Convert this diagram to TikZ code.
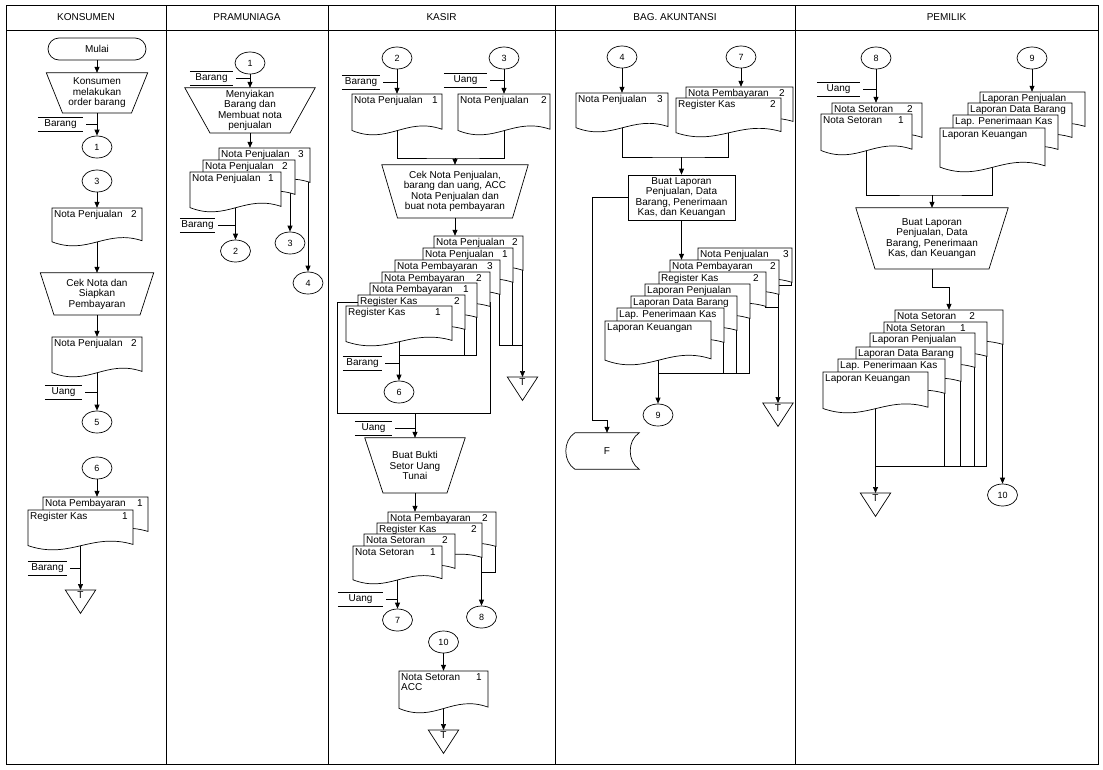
\documentclass[tikz,border=0pt]{standalone}
\usepackage{fontspec}
\setmainfont{Liberation Sans}
\usetikzlibrary{shapes.geometric,arrows.meta}
\pgfdeclarelayer{bg}
\pgfsetlayers{bg,main}
\tikzset{
  tfont/.style={font=\fontsize{10}{10.5}\selectfont},
  shp/.style={draw=black, line width=0.7pt},
  wire/.style={draw=black, line width=0.7pt},
  arr/.style={wire, -{Triangle[length=6pt,width=5pt]}},
  lbl/.style={draw=black, line width=0.6pt},
  frame/.style={draw=black, line width=0.9pt},
  conn/.style={ellipse, draw, line width=0.7pt, minimum width=30pt, minimum height=22pt, inner sep=0pt, font=\fontsize{9}{10}\selectfont},
  term/.style={draw, line width=0.7pt, rounded corners=11pt, minimum width=98pt, minimum height=22pt, tfont},
  dtext/.style={tfont, inner sep=0pt, align=left},
  docbody/.style={inner sep=0pt, draw=none},
}
% document: [number margin]{name}{x0}{y0}{x1}{h}{label}{number}
\newcommand{\docu}[8][5]{%
  \node[docbody, minimum width={#5-#3}, minimum height=#6] (#2) at ({(#3+#5)/2},{#4+#6/2}) {};
  \draw[shp, fill=white] (#3,#4) -- (#5,#4) -- (#5,{#4+0.86*#6})
    .. controls ({#3+0.6*(#5-#3)},{#4+0.55*#6}) and ({#3+0.4*(#5-#3)},{#4+1.25*#6}) ..
    (#3,{#4+0.89*#6}) -- cycle;
  \node[dtext, anchor=north west] (#2-l) at ({#3+2},{#4+2}) {#7};
  \node[dtext, anchor=north east] (#2-n) at ({#5-#1},{#4+2}) {#8};
}
% manual operation: {name}{cx}{ytop}{wtop}{wbot}{h}{text}
\newcommand{\manop}[7]{%
  \node[tfont, align=center, inner sep=0pt, minimum width=#4, minimum height=#6] (#1) at (#2,{#3+#6/2}) {#7};
  \draw[shp] (#1.north west) -- (#1.north east) -- ({#2+#5/2},{#3+#6}) -- ({#2-#5/2},{#3+#6}) -- cycle;
}
% physical item label: {name}{x0}{x1}{y}{text}
\newcommand{\thing}[5]{%
  \node[tfont, inner sep=0pt, minimum width={#3-#2}, minimum height=14] (#1) at ({(#2+#3)/2},#4) {#5};
  \draw[lbl] (#1.north west) -- (#1.north east) (#1.south west) -- (#1.south east);
}
% offline storage: {name}{cx}{ytop}
\newcommand{\offl}[3]{%
  \node[inner sep=0pt, minimum width=30, minimum height=23, anchor=north] (#1) at (#2,#3) {};
  \draw[shp] (#1.north west) -- (#1.north east) -- (#1.south) -- cycle;
  \node[tfont, anchor=north, inner sep=0pt] (#1-t) at ([yshift=-1.5pt]#1.north) {T};
}
\begin{document}
\begin{tikzpicture}[x=1pt,y=-1pt]
\useasboundingbox (0,0) rectangle (1103,769);
% headers
\node[tfont] (h1) at (86,17) {KONSUMEN};
\node[tfont] (h2) at (247,17) {PRAMUNIAGA};
\node[tfont] (h3) at (441.5,17) {KASIR};
\node[tfont] (h4) at (675,17) {BAG. AKUNTANSI};
\node[tfont] (h5) at (946.5,17) {PEMILIK};

% ---------------- KONSUMEN
\node[term] (mulai) at (97,49) {Mulai};
\manop{order}{97}{73}{101}{69}{40}{Konsumen\\melakukan\\order barang}
\thing{bar1}{38}{83}{124}{Barang}
\node[conn] (k1) at (97,147) {1};
\node[conn] (k3) at (97,181) {3};
\docu{knp2}{52}{208}{142}{38}{Nota Penjualan}{2}
\manop{cek}{97}{273}{113}{86}{42}{Cek Nota dan\\Siapkan\\Pembayaran}
\docu{knp2b}{52}{337}{142}{40}{Nota Penjualan}{2}
\thing{uang1}{45}{82}{392.5}{Uang}
\node[conn] (k5) at (97,422) {5};
\node[conn] (k6) at (97,468) {6};
\docu{knb1}{43}{497}{148}{40}{Nota Pembayaran}{1}
\docu{krk1}{28}{510}{133}{40}{Register Kas}{1}
\thing{bar2}{28}{67}{568}{Barang}
\offl{tk}{80.5}{590}

% ---------------- PRAMUNIAGA
\node[conn] (p1) at (250,63) {1};
\thing{bar3}{190}{233}{78}{Barang}
\manop{siap}{250}{88}{130}{80}{45}{Menyiakan\\Barang dan\\Membuat nota\\penjualan}
\docu[6]{pnp3}{219}{148}{310}{40}{Nota Penjualan}{3}
\docu[7]{pnp2}{203}{160}{295}{40}{Nota Penjualan}{2}
\docu[7]{pnp1}{190}{172}{281}{40}{Nota Penjualan}{1}
\thing{bar4}{180}{215}{225}{Barang}
\node[conn] (p2) at (235.5,251) {2};
\node[conn] (p3) at (290,243) {3};
\node[conn] (p4) at (308,283) {4};

% ---------------- KASIR
\node[conn] (c2) at (397,58) {2};
\node[conn] (c3) at (504,58) {3};
\thing{bar5}{342}{380}{82}{Barang}
\thing{uang2}{444}{487}{80}{Uang}
\docu[4]{cnp1}{352}{94}{442}{41}{Nota Penjualan}{1}
\docu[3]{cnp2}{458}{94}{550}{41}{Nota Penjualan}{2}
\manop{cek2}{455}{165}{146}{115}{53}{Cek Nota Penjualan,\\barang dan uang, ACC\\Nota Penjualan dan\\buat nota pembayaran}
\docu{cs1}{434}{236}{523}{40}{Nota Penjualan}{2}
\docu{cs2}{423}{248}{513}{40}{Nota Penjualan}{1}
\docu[7]{cs3}{395}{260}{500}{40}{Nota Pembayaran}{3}
\docu[8]{cs4}{382}{272}{490}{40}{Nota Pembayaran}{2}
\docu[8]{cs5}{370}{283}{477}{40}{Nota Pembayaran}{1}
\docu{cs6}{358}{295}{465}{40}{Register Kas}{2}
\docu[11]{cs7}{346}{306}{452}{40}{Register Kas}{1}
\node[conn] (c6) at (399,392) {6};
\thing{bar6}{343}{382}{363}{Barang}
\offl{tc1}{522.5}{377}
\thing{uang3}{355}{392}{428}{Uang}
\manop{setor}{415}{438}{100}{64}{55}{Buat Bukti\\Setor Uang\\Tunai}
\docu[8]{cd1}{388}{512}{496}{40}{Nota Pembayaran}{2}
\docu{cd2}{377}{523}{482}{40}{Register Kas}{2}
\docu[7]{cd3}{364}{534}{455}{40}{Nota Setoran}{2}
\docu[6]{cd4}{353}{546}{442}{38}{Nota Setoran}{1}
\thing{uang4}{338}{383}{599}{Uang}
\node[conn] (c7) at (397.5,620) {7};
\node[conn] (c8) at (481.5,617) {8};
\node[conn] (c10) at (443.5,642) {10};
\docu[6]{acc}{399}{671}{488}{42}{Nota Setoran\\ACC}{1}
\offl{tc2}{443.5}{730}

% ---------------- BAG. AKUNTANSI
\node[conn] (a4) at (622,57) {4};
\node[conn] (a7) at (741,57) {7};
\docu{anp3}{576}{93}{668}{39}{Nota Penjualan}{3}
\docu[8]{anb2}{686}{87}{793}{40}{Nota Pembayaran}{2}
\docu{ark2}{676}{98}{781}{39}{Register Kas}{2}
\node[shp, tfont, align=center, minimum width=107, minimum height=45, inner sep=0pt] (lap) at (681.5,197.5) {Buat Laporan\\Penjualan, Data\\Barang, Penerimaan\\Kas, dan Keuangan};
\node[tfont, inner sep=0pt, minimum width=64, minimum height=36] (fdata) at (607,451) {F};
\draw[shp] (fdata.north west) -- (fdata.north east) .. controls +(-12,8) and +(-12,-8) .. (fdata.south east)
  -- (fdata.south west) .. controls +(-12,-8) and +(-12,8) .. (fdata.north west);
\docu[3]{as1}{698}{248}{792}{40}{Nota Penjualan}{3}
\docu[3]{as2}{670}{260}{779}{40}{Nota Pembayaran}{2}
\docu[7]{as3}{659}{272}{766}{40}{Register Kas}{2}
\docu{as4}{645}{284}{750}{40}{Laporan Penjualan}{}
\docu{as5}{631}{296}{737}{40}{Laporan Data Barang}{}
\docu{as6}{617}{308}{724}{40}{Lap. Penerimaan Kas}{}
\docu{as7}{605}{321}{711}{44}{Laporan Keuangan}{}
\node[conn] (a9) at (658,415) {9};
\offl{ta}{778}{403}

% ---------------- PEMILIK
\node[conn] (o8) at (876,58) {8};
\node[conn] (o9) at (1032,58) {9};
\thing{uang5}{817}{860}{89}{Uang}
\docu[9]{on2}{832}{103}{922}{40}{Nota Setoran}{2}
\docu[8]{on1}{821}{114}{912}{41}{Nota Setoran}{1}
\docu{ol1}{980}{92}{1085}{40}{Laporan Penjualan}{}
\docu{ol2}{968}{103}{1072}{40}{Laporan Data Barang}{}
\docu{ol3}{953}{115}{1058}{40}{Lap. Penerimaan Kas}{}
\docu{ol4}{940}{128}{1045}{44}{Laporan Keuangan}{}
\manop{lap2}{932}{208}{152}{114}{61}{Buat Laporan\\Penjualan, Data\\Barang, Penerimaan\\Kas, dan Keuangan}
\docu[28]{ps1}{895}{310}{1003}{40}{Nota Setoran}{2}
\docu[21]{ps2}{884}{322}{987}{40}{Nota Setoran}{1}
\docu{ps3}{870}{333}{975}{40}{Laporan Penjualan}{}
\docu{ps4}{856}{347}{961}{40}{Laporan Data Barang}{}
\docu{ps5}{838}{359}{945}{40}{Lap. Penerimaan Kas}{}
\docu{ps6}{823}{372}{928}{41}{Laporan Keuangan}{}
\offl{tp}{875.5}{493}
\node[conn] (o10) at (1002.5,495) {10};

% ================= background: frame and connectors
\begin{pgfonlayer}{bg}
\draw[frame] (6,5) rectangle (1098,764);
\draw[frame] (6,30) -- (1098,30);
\foreach \x in {166,328,555,795} \draw[frame] (\x,5) -- (\x,764);

% KONSUMEN
\draw[arr] (mulai) -- (order);
\draw[arr] (order) -- (k1);
\draw[wire] ([xshift=3pt]bar1.east) -- (bar1.east -| k1);
\draw[arr] (k3) -- (knp2);
\draw[arr] (knp2.center) -- (cek);
\draw[arr] (cek) -- (knp2b);
\draw[arr] (knp2b.center) -- (k5);
\draw[wire] ([xshift=3pt]uang1.east) -- (uang1.east -| k5);
\draw[arr] (k6) -- (k6 |- knb1.north);
\draw[arr] (krk1.center) -- (tk.north);
\draw[wire] ([xshift=3pt]bar2.east) -- (bar2.east -| tk.north);

% PRAMUNIAGA
\draw[arr] (p1) -- (siap);
\draw[wire] ([xshift=3pt]bar3.east) -- (bar3.east -| p1);
\draw[arr] (siap) -- (siap |- pnp3.north);
\draw[arr] (pnp1.center) -- (p2);
\draw[wire] ([xshift=3pt]bar4.east) -- (bar4.east -| p2);
\draw[arr] (pnp2.center -| p3) -- (p3);
\draw[arr] (pnp3.center -| p4) -- (p4);

% KASIR
\draw[arr] (c2) -- (c2 |- cnp1.north);
\draw[arr] (c3) -- (c3 |- cnp2.north);
\draw[wire] ([xshift=3pt]bar5.east) -- (bar5.east -| c2);
\draw[wire] ([xshift=3pt]uang2.east) -- (uang2.east -| c3);
\coordinate (cj) at (455,158);
\draw[wire] (cnp1.center) |- (cj) -| (cnp2.center);
\draw[arr] (cj) -- (cek2);
\draw[arr] (cek2) -- (cek2 |- cs1.north);
\draw[wire] (337,302) rectangle (490,413);
\coordinate (bigb) at (415,413);
\draw[arr] (cs7.center) -- (c6);
\coordinate (cj2) at (399,355);
\draw[wire] (476.5,300) |- (cj2);
\draw[wire] (464.5,315) -- (464.5,355);
\draw[wire] ([xshift=3pt]bar6.east) -- (bar6.east -| c6);
\coordinate (cj3) at (522.5,345);
\draw[wire] (499.5,275) |- (cj3);
\draw[wire] (512.5,265) -- (512.5,345);
\draw[arr] (522.5,255) -- (tc1.north);
\draw[arr] (bigb) -- (setor);
\draw[wire] ([xshift=3pt]uang3.east) -- (uang3.east -| setor);
\draw[arr] (setor) -- (setor |- cd1.north);
\draw[arr] (cd4.center) -- (c7);
\draw[wire] ([xshift=3pt]uang4.east) -- (uang4.east -| c7);
\draw[wire] (495.5,530) |- (481.5,572);
\draw[arr] (481.5,540) -- (c8);
\draw[arr] (c10) -- (c10 |- acc.north);
\draw[arr] (acc.center) -- (tc2.north);

% BAG. AKUNTANSI
\draw[arr] (a4) -- (a4 |- anp3.north);
\draw[arr] (a7) -- (a7 |- anb2.north);
\coordinate (aj) at (681.5,157);
\draw[wire] (anp3.center) |- (aj) -| (ark2.center);
\draw[arr] (aj) -- (lap);
\draw[arr] (lap.west) -| ++(-35,222.5) -| (fdata.north);
\draw[arr] (lap) -- (lap |- as2.north);
\draw[arr] (as7.center) -- (a9);
\coordinate (aj2) at (658,373);
\draw[wire] (749.5,318) |- (aj2);
\draw[wire] (736.5,330) -- (736.5,373);
\draw[wire] (723.5,340) -- (723.5,373);
\draw[arr] (778,280) -- (ta.north);
\draw[wire] (765.5,295) |- (778,307);
\draw[wire] (791.5,270) |- (778,285);

% PEMILIK
\draw[arr] (o8) -- (o8 |- on2.north);
\draw[wire] ([xshift=3pt]uang5.east) -- (uang5.east -| o8);
\draw[arr] (o9) -- (o9 |- ol1.north);
\coordinate (oj) at (932,195);
\draw[wire] (on1.center) |- (oj) -| (ol4.center);
\draw[arr] (oj) -- (lap2);
\draw[arr] (lap2.south) -- ++(0,18) -| (ps1.north);
\draw[arr] (ps6.center) -- (tp.north);
\coordinate (oj2) at (875.5,466);
\draw[wire] (986.5,345) |- (oj2);
\draw[wire] (974.5,355) -- (974.5,466);
\draw[wire] (960.5,365) -- (960.5,466);
\draw[wire] (944.5,380) -- (944.5,466);
\draw[arr] (1002.5,330) -- (o10);
\end{pgfonlayer}
\end{tikzpicture}
\end{document}
